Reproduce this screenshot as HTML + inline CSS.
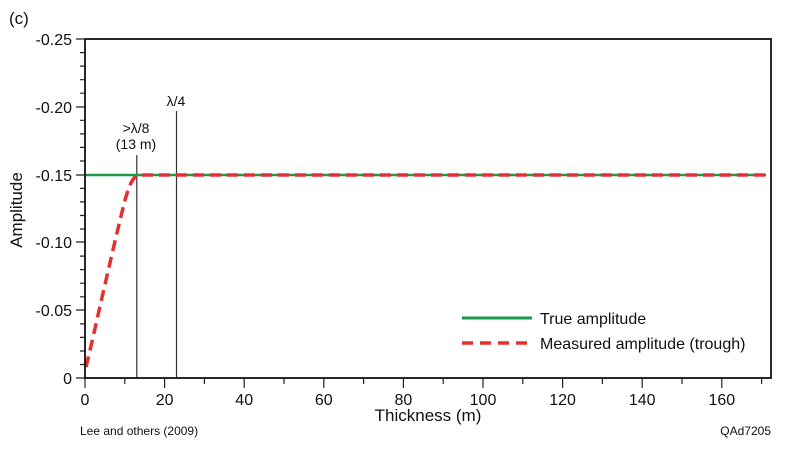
<!DOCTYPE html><html><head><style>body{margin:0;background:#fff}svg{display:block}text{font-family:"Liberation Sans",Arial,sans-serif;fill:#111}</style></head><body>
<svg width="800" height="462" viewBox="0 0 800 462">
<text x="9" y="24" font-size="17">(c)</text>
<g font-size="16" text-anchor="end">
<text x="72" y="45">-0.25</text><text x="72" y="113">-0.20</text><text x="72" y="181">-0.15</text><text x="72" y="248">-0.10</text><text x="72" y="316">-0.05</text><text x="72" y="384">0</text>
</g>
<g stroke="#222" stroke-width="1.2">
<path d="M76 39H85M76 107H85M76 175H85M76 242H85M76 310H85M76 378H85"/>
<path d="M80 52.6H85M80 66.1H85M80 79.7H85M80 93.2H85M80 120.3H85M80 133.9H85M80 147.4H85M80 161H85M80 188.4H85M80 201.9H85M80 215.5H85M80 229H85M80 256.1H85M80 269.6H85M80 283.2H85M80 296.8H85M80 323.9H85M80 337.4H85M80 351H85M80 364.5H85"/>
<path d="M85 378V388M124.8 378V384M164.6 378V388M204.4 378V384M244.2 378V388M284 378V384M323.8 378V388M363.6 378V384M403.4 378V388M443.2 378V384M483 378V388M522.8 378V384M562.6 378V388M602.4 378V384M642.2 378V388M682 378V384M721.8 378V388M761.6 378V384"/>
</g>
<g font-size="16" text-anchor="middle">
<text x="85" y="405">0</text><text x="164.6" y="405">20</text><text x="244.2" y="405">40</text><text x="323.8" y="405">60</text><text x="403.4" y="405">80</text><text x="483" y="405">100</text><text x="562.6" y="405">120</text><text x="642.2" y="405">140</text><text x="721.8" y="405">160</text>
<text x="428" y="421" font-size="17">Thickness (m)</text>
</g>
<text transform="translate(22,210) rotate(-90)" font-size="17" text-anchor="middle">Amplitude</text>
<text x="80" y="435" font-size="12">Lee and others (2009)</text>
<text x="771" y="435" font-size="12" text-anchor="end">QAd7205</text>
<path d="M136.8 155V378M176.5 111V378" stroke="#333" stroke-width="1.2"/>
<text x="136" y="133" font-size="14" text-anchor="middle">&gt;λ/8</text>
<text x="136" y="149" font-size="14" text-anchor="middle">(13 m)</text>
<text x="176" y="106" font-size="14" text-anchor="middle">λ/4</text>
<line x1="85" y1="175" x2="766" y2="175" stroke="#1a9a4a" stroke-width="2.5"/>
<path d="M86 367 C95 330 110 260 125 200 C130 183 133 176 140 175 L200 175 L766 175" fill="none" stroke="#e53030" stroke-width="3.5" stroke-dasharray="11 6"/>
<rect x="85" y="39" width="686" height="339" fill="none" stroke="#111" stroke-width="1.8"/>
<line x1="462" y1="318" x2="532" y2="318" stroke="#1a9a4a" stroke-width="3"/>
<line x1="462" y1="343" x2="532" y2="343" stroke="#e53030" stroke-width="3.5" stroke-dasharray="11 7"/>
<text x="540" y="324" font-size="16">True amplitude</text>
<text x="540" y="349" font-size="16">Measured amplitude (trough)</text>
</svg></body></html>
